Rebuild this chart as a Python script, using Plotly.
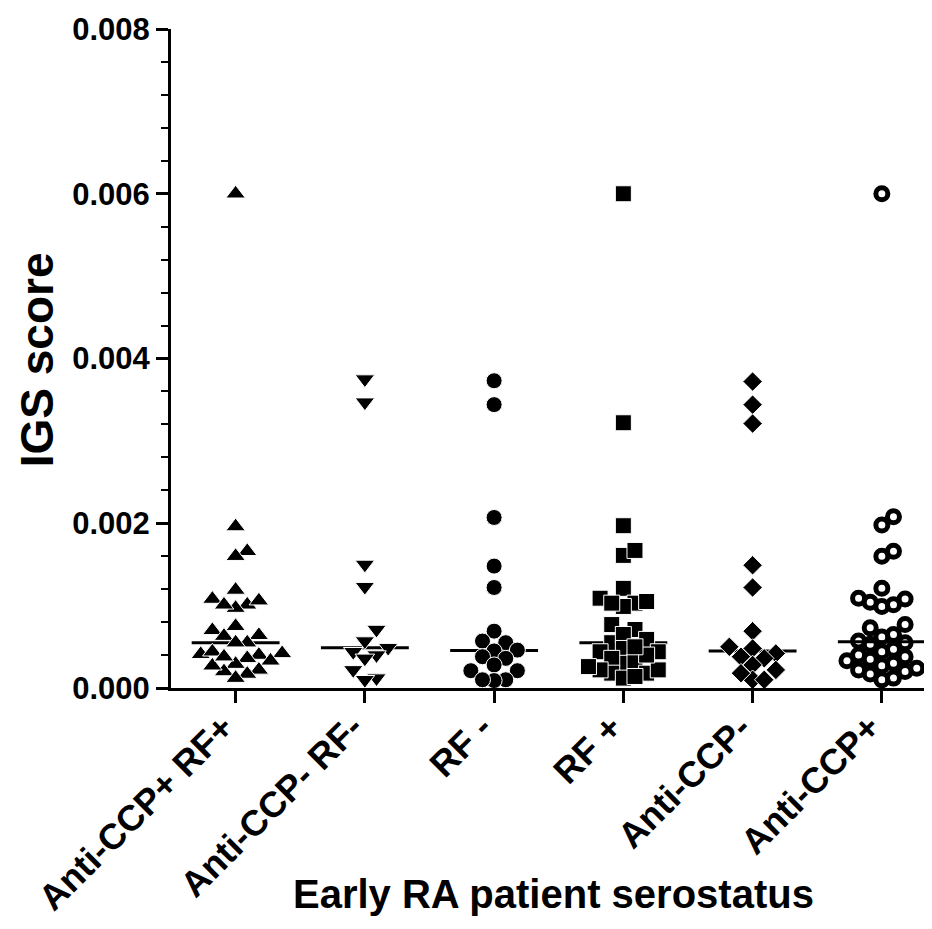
import numpy as np
import plotly.graph_objects as go

# ---- data (IGS score) ----
categories = ["Anti-CCP+ RF+", "Anti-CCP- RF-", "RF -", "RF +", "Anti-CCP-", "Anti-CCP+"]

ccp_pos_rf_pos = [0.0060, 0.00196, 0.00166, 0.00160, 0.00119, 0.00101, 0.00106, 0.00097, 0.00108,
                  0.00101, 0.00075, 0.00070, 0.00064, 0.00063, 0.00055, 0.00055, 0.00041, 0.00042,
                  0.00040, 0.00036, 0.00044, 0.00033, 0.00029, 0.00020, 0.00027, 0.00022, 0.00017,
                  0.00012, 0.00038]
ccp_neg_rf_neg = [0.00375, 0.00347, 0.00150, 0.00123, 0.00071, 0.00057, 0.00049, 0.00044, 0.00040,
                  0.00036, 0.00022, 0.00012, 0.00010]
rf_neg = [0.00373, 0.00344, 0.00207, 0.00148, 0.00122, 0.00069, 0.00055, 0.00057, 0.00046, 0.00045,
          0.00036, 0.00038, 0.00028, 0.00021, 0.00021, 0.00010, 0.00009, 0.00010]
rf_pos = [0.0060, 0.00322, 0.00197, 0.00161, 0.00167, 0.00121, 0.00103, 0.00105, 0.00099, 0.00109,
          0.00103, 0.00071, 0.00077, 0.00055, 0.00065, 0.00059, 0.00048, 0.00044, 0.00044, 0.00030,
          0.00036, 0.00032, 0.00018, 0.00012, 0.00018, 0.00022, 0.00022, 0.00040, 0.00050, 0.00026,
          0.00014]
ccp_neg = [0.00372, 0.00344, 0.00321, 0.00149, 0.00122, 0.00069, 0.00050, 0.00042, 0.00036, 0.00038,
           0.00048, 0.00022, 0.00028, 0.00010, 0.00018, 0.00010]
ccp_pos = [0.0060, 0.00208, 0.00198, 0.00160, 0.00166, 0.00121, 0.00101, 0.00108, 0.00099, 0.00109,
           0.00104, 0.00077, 0.00073, 0.00065, 0.00062, 0.00057, 0.00055, 0.00053, 0.00047, 0.00044,
           0.00040, 0.00038, 0.00035, 0.00033, 0.00030, 0.00027, 0.00024, 0.00022, 0.00020, 0.00017,
           0.00012, 0.00010]

groups = [ccp_pos_rf_pos, ccp_neg_rf_neg, rf_neg, rf_pos, ccp_neg, ccp_pos]

y_ticks = [0.0, 0.002, 0.004, 0.006, 0.008]

# ---- styles ----
symbols = ["triangle-up", "triangle-down", "circle", "square", "diamond", "circle-open"]
sizes = [17, 17, 16, 16, 15, 12]

W, H = 932, 929
ML, MR, MT, MB = 163, 0, 21, 249
X_RANGE = [-0.5, 5.45]
Y_RANGE = [0, 0.008]
plot_h = H - MT - MB
y_px_per_unit = plot_h / (Y_RANGE[1] - Y_RANGE[0])


def swarm(values, step=0.09, min_dy_px=13.5):
    """Simple column beeswarm: spread points that would overlap vertically."""
    vals = np.asarray(values)
    order = np.argsort(vals)
    placed = []
    offs = np.zeros(len(vals))
    cands = [0, 1, -1, 2, -2, 3, -3, 4, -4, 5, -5]
    for idx in order:
        v = vals[idx]
        for k in cands:
            if all(not (c == k and abs(v - y) * y_px_per_unit < min_dy_px) for c, y in placed):
                break
        placed.append((k, v))
        offs[idx] = k * step
    return offs


fig = go.Figure()

# median lines
for i, g in enumerate(groups):
    m = float(np.median(g))
    fig.add_trace(go.Scatter(x=[i - 0.34, i + 0.34], y=[m, m], mode="lines",
                             line=dict(color="black", width=3), hoverinfo="skip",
                             showlegend=False))

# points
for i, g in enumerate(groups):
    offs = swarm(g)
    xs = i + offs
    if symbols[i] == "circle-open":
        marker = dict(symbol=symbols[i], size=sizes[i], color="black",
                      line=dict(color="black", width=5))
    else:
        marker = dict(symbol=symbols[i], size=sizes[i], color="black",
                      line=dict(color="white", width=1))
    fig.add_trace(go.Scatter(x=xs, y=g, mode="markers", marker=marker,
                             name=categories[i], showlegend=False))

font_family = "Liberation Sans, Arial, sans-serif"
bold = lambda s: dict(size=s, family=font_family, weight="bold", color="black")

annotations = []
# rotated category labels
for i, c in enumerate(categories):
    annotations.append(dict(text=c, xref="x", yref="paper", x=i + 0.07, y=-0.024,
                            xanchor="right", yanchor="top", showarrow=False,
                            textangle=-45, font=bold(36)))
annotations.append(dict(text="Early RA patient serostatus", xref="paper", yref="paper",
                        x=0.497, y=-0.313, xanchor="center", yanchor="middle",
                        showarrow=False, font=bold(40)))
annotations.append(dict(text="IGS score", xref="paper", yref="paper",
                        x=-0.175, y=0.498, xanchor="center", yanchor="middle",
                        showarrow=False, textangle=-90, font=bold(46)))

fig.update_layout(
    width=W, height=H,
    margin=dict(l=ML, r=MR, t=MT, b=MB, pad=0),
    paper_bgcolor="white", plot_bgcolor="white",
    font=dict(family=font_family, color="black"),
    xaxis=dict(range=X_RANGE, tickmode="array", tickvals=list(range(len(categories))),
               showticklabels=False,
               ticks="outside", ticklen=12, tickwidth=3, tickcolor="black",
               showline=True, linewidth=3, linecolor="black",
               showgrid=False, zeroline=False),
    yaxis=dict(range=Y_RANGE, tickmode="array", tickvals=y_ticks, tickformat=".3f",
               tickfont=bold(31),
               ticks="outside", ticklen=12, tickwidth=3, tickcolor="black",
               minor=dict(dtick=0.0004, ticks="outside", ticklen=7, tickwidth=2,
                          tickcolor="black", showgrid=False),
               showline=True, linewidth=3, linecolor="black",
               showgrid=False, zeroline=False),
    annotations=annotations,
)

fig.write_html("out.html")
